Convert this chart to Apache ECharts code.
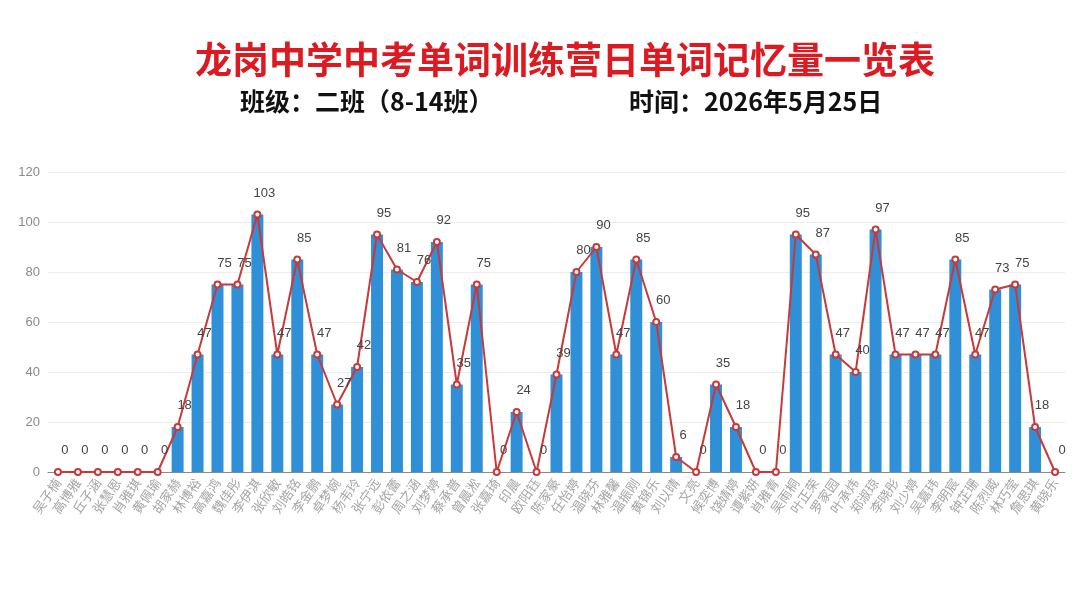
<!DOCTYPE html>
<html>
<head>
<meta charset="utf-8">
<title>龙岗中学中考单词训练营日单词记忆量一览表</title>
<script src="https://cdn.jsdelivr.net/npm/echarts@6/dist/echarts.min.js"></script>
<style>
html, body { margin: 0; padding: 0; background: #fff; }
#chart { width: 1080px; height: 608px; }
</style>
</head>
<body>
<div id="chart"></div>
<script>
// 学生姓名
var students = ['吴子楠','高博雅','丘子涵','张慧恩','肖雅琪','黄佩瑜','胡家赫','林博裕','高嘉鸿','魏佳彤',
    '李伊淇','张欣敏','刘皓铭','李金鹏','卓梦婉','杨韦玲','张宁远','彭依蕾','周之涵','刘梦婷',
    '蔡承普','曾晨淞','张嘉琦','印晨','欧阳钰','陈家豪','任怡婷','温晓芬','林雅馨','温振刚',
    '黄锦乐','刘以晴','文亮','候奕博','饶婧婷','谭紫妍','肖雅青','吴雨桐','叶正荣','罗家园',
    '叶承炜','郑淑琼','李晓彤','刘少婷','吴嘉玮','李明宸','钟芷珊','陈烈威','林巧莹','詹思琪',
    '黄晓乐'];
// 单词记忆量
var wordCounts = [0, 0, 0, 0, 0, 0, 18, 47, 75, 75,
    103, 47, 85, 47, 27, 42, 95, 81, 76, 92,
    35, 75, 0, 24, 0, 39, 80, 90, 47, 85,
    60, 6, 0, 35, 18, 0, 0, 95, 87, 47,
    40, 97, 47, 47, 47, 85, 47, 73, 75, 18,
    0];
var yTicks = [0, 20, 40, 60, 80, 100, 120];

var chart = echarts.init(document.getElementById('chart'));
var cjk = 'Noto Sans CJK SC';

chart.setOption({
    animation: false,
    title: [
        {
            text: '龙岗中学中考单词训练营日单词记忆量一览表',
            left: 190,
            top: 36,
            textStyle: { fontFamily: cjk, fontSize: 37, fontWeight: 'bold', color: '#dc1a22' }
        },
        {
            text: '班级：二班（8-14班）',
            left: 235,
            top: 84,
            textStyle: { fontFamily: cjk, fontSize: 25, fontWeight: 'bold', color: '#111' }
        },
        {
            text: '时间：2026年5月25日',
            left: 624,
            top: 84,
            textStyle: { fontFamily: cjk, fontSize: 25, fontWeight: 'bold', color: '#111' }
        }
    ],
    grid: {
        left: 48,
        right: 15,
        top: 172,
        bottom: 136
    },
    xAxis: {
        type: 'category',
        data: students,
        axisTick: { alignWithLabel: true, lineStyle: { color: '#8a8a8a' } },
        axisLine: { lineStyle: { color: '#8a8a8a' } },
        axisLabel: {
            interval: 0,
            rotate: 55,
            fontFamily: cjk,
            fontSize: 13,
            color: '#a5a5a5'
        }
    },
    yAxis: {
        type: 'value',
        min: yTicks[0],
        max: yTicks[yTicks.length - 1],
        interval: 20,
        axisLabel: { fontSize: 13, color: '#8a8a8a' },
        splitLine: { lineStyle: { color: '#ececec' } }
    },
    series: [
        {
            name: '记忆量',
            type: 'bar',
            barWidth: '60%',
            itemStyle: { color: '#2f8fd7' },
            data: wordCounts
        },
        {
            name: '记忆量折线',
            type: 'line',
            symbol: 'emptyCircle',
            symbolSize: 6,
            lineStyle: { color: '#c8393a', width: 2 },
            itemStyle: { color: '#c8393a', borderColor: '#c8393a', borderWidth: 1.5 },
            label: {
                show: true,
                position: 'top',
                offset: [7, -6],
                fontSize: 13,
                color: '#444'
            },
            data: wordCounts
        }
    ]
});
</script>
</body>
</html>
